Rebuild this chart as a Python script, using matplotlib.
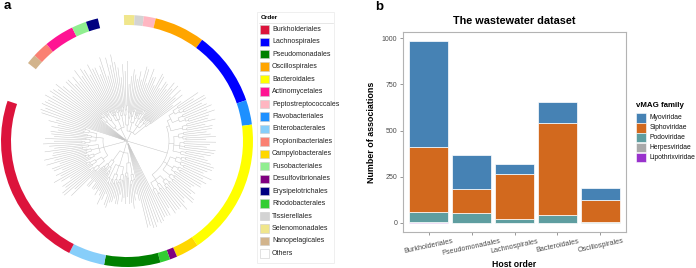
import matplotlib
matplotlib.use("Agg")
import numpy as np
import matplotlib.pyplot as plt
from matplotlib.patches import Wedge, Rectangle
from matplotlib.collections import LineCollection

plt.rcParams['font.family'] = ['Liberation Sans', 'DejaVu Sans']

W, H = 696, 268

# ---- panel a data ----
orders = ["Burkholderiales", "Lachnospirales", "Pseudomonadales", "Oscillospirales",
          "Bacteroidales", "Actinomycetales", "Peptostreptococcales", "Flavobacteriales",
          "Enterobacterales", "Propionibacteriales", "Campylobacterales", "Fusobacteriales",
          "Desulfovibrionales", "Erysipelotrichales", "Rhodobacterales", "Tissierellales",
          "Selenomonadales", "Nanopelagicales", "Others"]
order_colors = ["#DC143C", "#0000FF", "#008000", "#FFA500", "#FFFF00", "#FF1493",
                "#FFB6C1", "#1E90FF", "#87CEFA", "#FA8072", "#FFD700", "#90EE90",
                "#800080", "#000080", "#32CD32", "#D3D3D3", "#F0E68C", "#D2B48C", "#FFFFFF"]

# ring segments (degrees, counter-clockwise from east)
ring_order = ["Selenomonadales", "Tissierellales", "Peptostreptococcales", "Oscillospirales",
              "Lachnospirales", "Flavobacteriales", "Bacteroidales", "Campylobacterales",
              "Desulfovibrionales", "Rhodobacterales", "Pseudomonadales", "Enterobacterales",
              "Burkholderiales", "Nanopelagicales", "Propionibacteriales", "Actinomycetales",
              "Fusobacteriales", "Erysipelotrichales"]
ring_start = [86.5, 82.3, 76.8, 53.4, 18.9, 7.5, -56, -66.6, -70, -74.6, -100.5, -117.3,
              161.4, 137.2, 129.7, 115.8, 109, 103.4]
ring_end = [91.4, 86.5, 82.3, 76.8, 53.4, 18.9, 7.5, -56, -66.6, -70, -74.6, -100.5,
            242.7, 141.8, 137.2, 129.7, 115.8, 109]

# host tree, branch lengths in pixels
clade_top = "((((:40,:30):8,(:46,(:35,:45):4):5):10,((:28,:36):6,(:44,:39):5):7):6,((:38,(:41,(:30,:44):3):5):6,((:47,:33):4,(:50,:42):3):5):9,(((:40,:32):5,(:45,(:39,:27):4):6):7,(:48,(:44,(:36,:46):3):3):5,((:41,:47):4,(:33,:45):5):6):8,((:35,:42):6,(:29,:38):5):14):10"
clade_right = "(((((:25,:18):6,(:30,(:26,:20):4):5):6,((:27,:31):5,(:24,(:28,:21):3):6):7):4,((:22,:29):5,(:19,:26):4):12):3,(((:29,:23):5,(:28,(:30,:20):3):4):5,((:32,:26):4,(:22,:31):5,:35):6,((:25,:19):5,:28):8):5,((((:26,:30):4,:33):5,(:28,(:21,:31):4):6):6,((:27,(:29,:25):3):5,(:30,:24):4):7,((:20,:27):4,(:23,:29):5):9):4,(((:31,:22):5,(:26,(:30,:24):3):4):6,(:33,(:27,:29):5):5,((:18,:25):6,:30):7):6):42"
clade_lines = "(:82,:85,(:80,:78):6,:88,(:84,:81):4,:86):3"
clade_bottom = "((((:22,:15):5,(:20,(:24,:18):4):6):12,((:26,:19):5,(:28,:22):3):10):10,(((:21,:14):6,(:25,(:22,:17):3):5):8,((:23,(:20,:26):4):5,(:27,:16):6):9,((:18,:24):5,:20):15):14,(((:22,(:25,:19):3):4,:28):7,((:24,:17):5,(:26,(:23,:15):3):4):6):12):12"
clade_left = "((((:35,:28):5,(:40,(:36,:30):4):5):8,((:37,:26):5,(:34,(:38,:29):3):6):7):6,(((:39,:31):4,(:38,(:36,:27):3):5):7,((:42,:33):5,(:44,:35):4):8,((:30,:38):6,:34):10):5,(((:36,(:39,:28):3):5,(:41,:32):4):6,(:40,(:37,:30):4):5,((:33,:27):5,(:38,:31):4):8):7):24"
clade_fan = "(:88,:90,:86,:91,:89,:87,:92,:85,:90,:88,:84,:89):2"
clade_upper = "((((:50,:42):6,(:52,(:48,:40):4):5):10,((:53,:45):5,(:56,(:44,:51):3):6):8):4,(((:50,:43):4,:57):6,(:52,(:49,:41):3):5,((:46,:54):4,:38):7):9,((:55,:47):5,(:58,:50):4):12):14"
tree_newick = "(" + ",".join([clade_top, clade_right, clade_lines, clade_bottom,
                              clade_left, clade_fan, clade_upper]) + ");"

# ---- panel b data ----
hosts = ["Burkholderiales", "Pseudomonadales", "Lachnospirales", "Bacteroidales", "Oscillospirales"]
families = ["Myoviridae", "Siphoviridae", "Podoviridae", "Herpesviridae", "Lipothrixviridae"]
fam_colors = ["#4682B4", "#D2691E", "#5F9EA0", "#A9A9A9", "#9932CC"]
myo = [573, 185, 56, 115, 65]
sipho = [350, 129, 242, 497, 115]
podo = [55, 52, 22, 43, 7]
herpes = [1, 0, 0, 0, 0]
lipo = [5, 0, 0, 0, 0]


def parse_newick(s):
    pos = 0

    def node():
        nonlocal pos
        kids = []
        if s[pos] == '(':
            pos += 1
            while True:
                kids.append(node())
                if s[pos] == ',':
                    pos += 1
                    continue
                pos += 1
                break
        length = 0.0
        if pos < len(s) and s[pos] == ':':
            pos += 1
            start = pos
            while s[pos] not in ',);':
                pos += 1
            length = float(s[start:pos])
        return {'kids': kids, 'len': length}

    return node()


def count_leaves(n):
    return 1 if not n['kids'] else sum(count_leaves(k) for k in n['kids'])


def px(x, y, w=0, h=0):
    # figure pixel (from top-left) -> figure fraction
    return x / W, 1 - (y + h) / H


fig = plt.figure(figsize=(W / 100, H / 100), dpi=100)

# ================= panel a =================
ax = fig.add_axes([0, 0, 255 / W, 1])
ax.set_xlim(-127, 128)
ax.set_ylim(-127, 141)
ax.axis('off')

tree = parse_newick(tree_newick)
n_leaves = count_leaves(tree)
step = 360.0 / n_leaves
segs = []
counter = [0]


def layout(n, r0):
    r = r0 + n['len']
    if not n['kids']:
        th = 98 - (counter[0] + 0.5) * step
        counter[0] += 1
    else:
        ths = [layout(k, r) for k in n['kids']]
        th = 0.5 * (ths[0] + ths[-1])
        arc = np.radians(np.linspace(ths[0], ths[-1], 30))
        segs.append(np.column_stack([r * np.cos(arc), r * np.sin(arc)]))
    t = np.radians(th)
    segs.append([(r0 * np.cos(t), r0 * np.sin(t)), (r * np.cos(t), r * np.sin(t))])
    return th


layout(tree, 0)
ax.add_collection(LineCollection(segs, colors="#C4C4C4", linewidths=0.35))

for name, a0, a1 in zip(ring_order, ring_start, ring_end):
    col = order_colors[orders.index(name)]
    ax.add_patch(Wedge((0, 0), 126, a0, a1, width=10, facecolor=col, edgecolor='none'))

# legend for orders
fig.patches.append(Rectangle(px(257, 12, 0, 251), 77 / W, 251 / H, transform=fig.transFigure,
                             facecolor='white', edgecolor='#EDEDED', lw=0.6))
fig.text(*px(261, 17.5), "Order", fontsize=4.6, fontweight='bold', va='center', ha='left')
fig.lines.append(plt.Line2D([259 / W, 333 / W], [1 - 22.5 / H] * 2, transform=fig.transFigure,
                            color='#DDDDDD', lw=0.5))
for i, (name, col) in enumerate(zip(orders, order_colors)):
    yc = 29.3 + i * 12.45
    fig.patches.append(Rectangle(px(260, yc - 4.2, 0, 8.4), 9.3 / W, 8.4 / H,
                                 transform=fig.transFigure, facecolor=col,
                                 edgecolor='#CCCCCC', lw=0.4))
    fig.text(*px(272, yc), name, fontsize=5, va='center', ha='left', color='#222222')

fig.text(*px(4, 9), "a", fontsize=9.5, fontweight='bold', va='baseline', ha='left')
fig.text(*px(375, 10), "b", fontsize=9.5, fontweight='bold', va='baseline', ha='left')

# ================= panel b =================
bx = fig.add_axes([403 / W, (268 - 232) / H, 223 / W, 200 / H])
xs = np.arange(len(hosts))
stack = [(lipo, fam_colors[4]), (herpes, fam_colors[3]), (podo, fam_colors[2]),
         (sipho, fam_colors[1]), (myo, fam_colors[0])]
bottom = np.zeros(len(hosts))
for vals, col in stack:
    vals = np.array(vals, dtype=float)
    bx.bar(xs, vals, bottom=bottom, width=0.9, color=col, edgecolor='white', linewidth=0.5)
    bottom += vals

bx.set_xlim(-0.6, len(hosts) - 0.4)
bx.set_ylim(-49.2, 1033.2)
bx.set_yticks([0, 250, 500, 750, 1000])
bx.set_xticks(xs)
bx.set_xticklabels(hosts, rotation=12, ha='center', va='top', fontsize=5.2, color='#4D4D4D')
bx.tick_params(axis='y', labelsize=5, labelcolor='#4D4D4D', color='#6E6E6E', length=2.5, width=0.5, pad=1.5)
bx.tick_params(axis='x', color='#6E6E6E', length=2.5, width=0.5, pad=1.5)
for sp in bx.spines.values():
    sp.set_color('#B3B3B3')
    sp.set_linewidth(0.8)
bx.set_title("The wastewater dataset", fontsize=7.8, fontweight='bold', pad=6)
bx.set_ylabel("Number of associations", fontsize=6.4, fontweight='bold', labelpad=4)
bx.set_xlabel("Host order", fontsize=6.2, fontweight='bold', labelpad=2)

# legend for viral families
fig.text(*px(636, 106), "vMAG family", fontsize=5.7, fontweight='bold', va='center', ha='left')
for i, (name, col) in enumerate(zip(families, fam_colors)):
    yc = 117.7 + i * 10
    fig.patches.append(Rectangle(px(636, yc - 4.8, 0, 9.6), 9.7 / W, 9.6 / H,
                                 transform=fig.transFigure, facecolor=col,
                                 edgecolor='white', lw=0.4))
    fig.text(*px(650, yc), name, fontsize=4.9, va='center', ha='left', color='#111111')

fig.savefig("out.png", dpi=100)
